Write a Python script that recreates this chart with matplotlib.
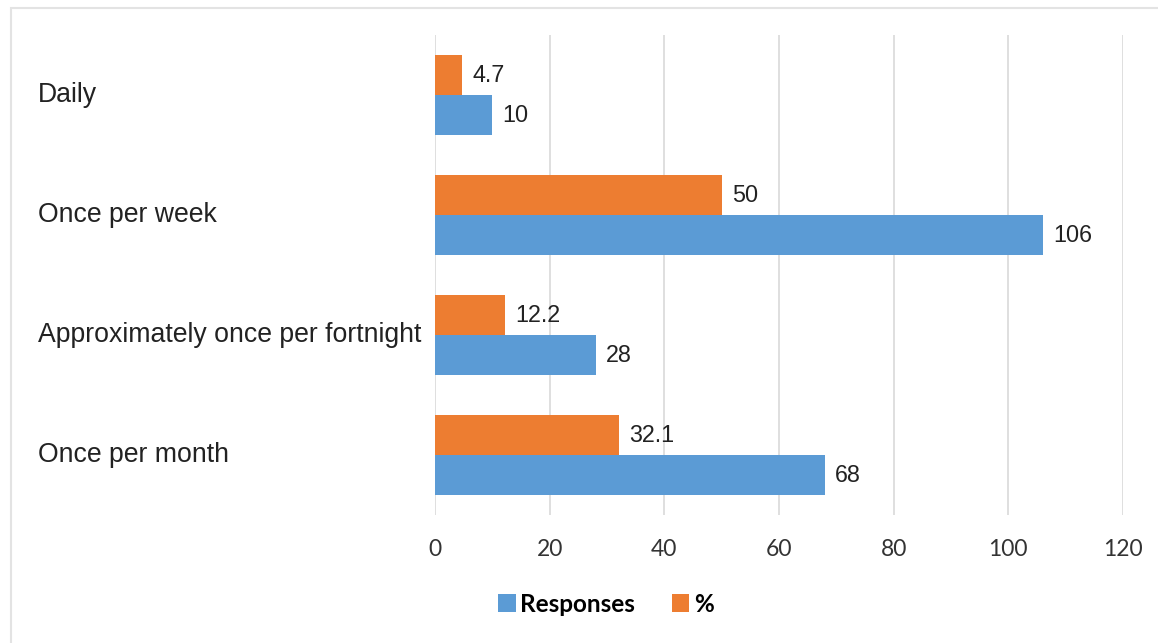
import matplotlib.pyplot as plt
import matplotlib.transforms as mtransforms
from matplotlib.patches import Rectangle
import numpy as np

categories = ["Daily", "Once per week", "Approximately once per fortnight", "Once per month"]
responses = [10, 106, 28, 68]
percent = [4.7, 50, 12.2, 32.1]
xticks = [0, 20, 40, 60, 80, 100, 120]

blue = "#5B9BD5"
orange = "#ED7D31"

fig = plt.figure(figsize=(11.58, 6.43), dpi=100)
ax = fig.add_axes([435 / 1158, 1 - 515 / 643, (1123 - 435) / 1158, 480 / 643])

y = np.arange(len(categories))
h = 1 / 3
ax.barh(y - h / 2, percent, height=h, color=orange, label="%", zorder=3)
ax.barh(y + h / 2, responses, height=h, color=blue, label="Responses", zorder=3)

for yi, v in zip(y, percent):
    ax.annotate(f"{v:g}", (v, yi - h / 2), xytext=(7.5, 0), textcoords="offset points",
                va="center", ha="left", fontsize=16.8, family="Liberation Sans", color="#222222")
for yi, v in zip(y, responses):
    ax.annotate(f"{v:g}", (v, yi + h / 2), xytext=(7.5, 0), textcoords="offset points",
                va="center", ha="left", fontsize=16.8, family="Liberation Sans", color="#222222")

# category names sit flush left in the figure
trans = mtransforms.blended_transform_factory(fig.transFigure, ax.transData)
for yi, name in zip(y, categories):
    ax.text(38 / 1158, yi, name, transform=trans, ha="left", va="center",
            fontsize=19.2, family="Liberation Sans", color="#222222")

ax.set_xlim(0, 120)
ax.set_ylim(len(categories) - 0.5, -0.5)
ax.set_xticks(xticks)
ax.set_yticks([])
ax.tick_params(axis="x", length=0, pad=17, labelsize=16.5, labelcolor="#333333")
for lbl in ax.get_xticklabels():
    lbl.set_family("Lato")
ax.grid(axis="x", color="#D9D9D9", linewidth=1.2, zorder=0)
for s in ax.spines.values():
    s.set_visible(False)

handles, labels = ax.get_legend_handles_labels()
fig.legend(handles[::-1], labels[::-1], loc="center", bbox_to_anchor=(606 / 1158, 1 - 604 / 643),
           ncol=2, frameon=False, handlelength=0.72, handleheight=0.72, handletextpad=0.2,
           columnspacing=1.5, prop={"weight": "bold", "size": 17.5, "family": "Lato"})

fig.patches.append(Rectangle((11 / 1158, -0.1), 1.2, 1 - 8 / 643 + 0.1, transform=fig.transFigure,
                             fill=False, edgecolor="#E3E3E3", linewidth=1.5))

fig.savefig("out.png", dpi=100)
